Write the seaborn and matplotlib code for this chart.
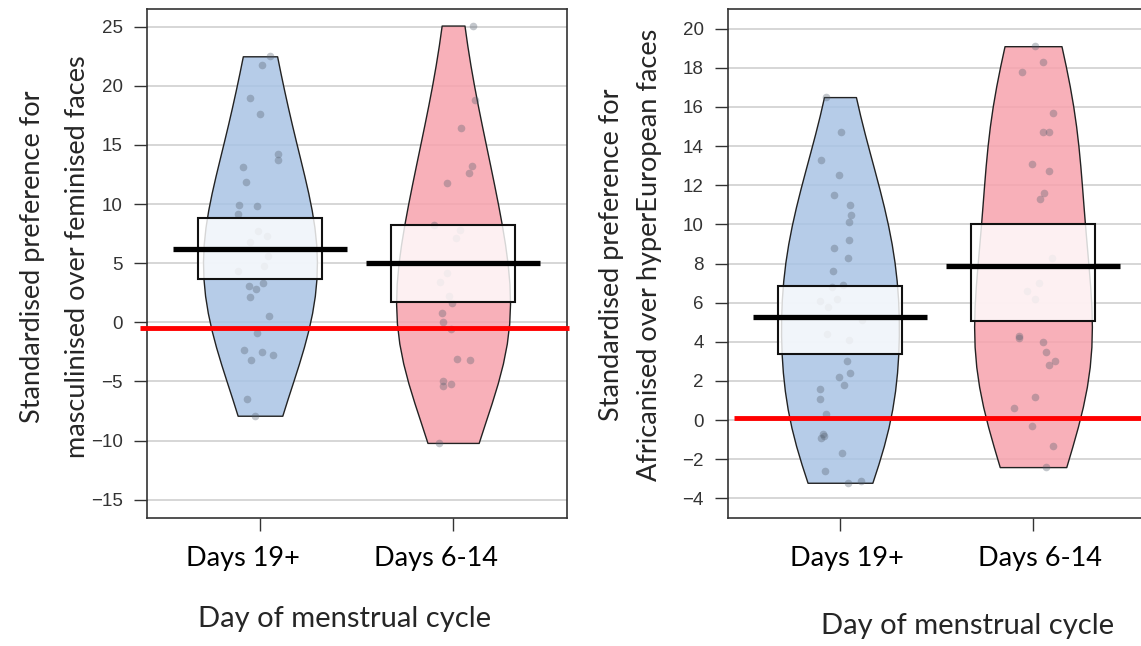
import numpy as np
import pandas as pd
import seaborn as sns
from matplotlib import pyplot as plt
from matplotlib.patches import Rectangle
from matplotlib.transforms import ScaledTranslation

groups = ['Days 19+', 'Days 6-14']

# left panel: masculinised over feminised faces
masc_late = [21.8, 22.5, 19.0, 17.6, 14.2, 13.7, 13.1, 11.9, 9.9, 9.8, 9.2,
             7.7, 7.3, 6.8, 5.6, 4.8, 4.3, 3.3, 3.1, 2.8, 2.1, 0.5, -0.9,
             -2.3, -2.5, -2.8, -3.2, -6.5, -7.9]
masc_mid = [25.1, 18.8, 16.4, 13.2, 12.6, 11.8, 8.2, 7.8, 7.1, 4.2, 3.4, 2.2,
            1.6, 0.8, 0.0, -0.6, -3.2, -3.1, -5.4, -5.0, -5.2, -10.2]
masc_mean = [6.18, 4.99]
masc_band = [(3.63, 8.8), (1.7, 8.2)]
masc_ref = -0.45

# right panel: africanised over hyperEuropean faces
afr_late = [16.5, 14.7, 13.3, 12.5, 11.5, 11.0, 10.5, 10.1, 9.2, 8.8, 8.3,
            7.6, 6.9, 6.8, 6.2, 6.1, 5.8, 5.1, 4.4, 4.1, 3.0, 2.4, 2.2, 1.8,
            1.6, 1.1, 0.3, -0.8, -0.9, -0.7, -1.7, -2.6, -3.1, -3.2]
afr_mid = [19.1, 18.3, 17.8, 15.7, 14.7, 14.7, 13.1, 12.7, 11.6, 11.3, 8.3,
           7.0, 6.6, 6.2, 4.2, 4.3, 4.0, 3.5, 3.0, 2.8, 1.2, 0.6, -0.3, -1.3,
           -2.4]
afr_mean = [5.26, 7.87]
afr_band = [(3.39, 6.85), (5.06, 10.0)]
afr_ref = 0.12

palette = {'Days 19+': '#a9c4e4', 'Days 6-14': '#f7a3ad'}
lab_font = ['Lato', 'DejaVu Sans']


def long_df(late, mid):
    return pd.DataFrame({
        'group': ['Days 19+'] * len(late) + ['Days 6-14'] * len(mid),
        'value': late + mid,
    })


def pirate(ax, df, means, bands, width, bw, shift):
    sns.violinplot(data=df, x='group', y='value', hue='group', order=groups,
                   palette=palette, legend=False, cut=0, inner=None,
                   density_norm='width', width=width, bw_adjust=bw,
                   gridsize=22, linewidth=1, linecolor='#222222',
                   saturation=1, ax=ax, zorder=2)
    for coll in ax.collections:
        fc = coll.get_facecolor()
        fc[:, 3] = 0.85
        coll.set_facecolor(fc)
    sns.stripplot(data=df, x='group', y='value', order=groups, color='#55606e',
                  alpha=0.35, size=5.5, jitter=0.12, linewidth=0, ax=ax,
                  zorder=3)
    for i, (lo, hi) in enumerate(bands):
        ax.add_patch(Rectangle((i - 0.32, lo), 0.64, hi - lo, facecolor='white',
                               alpha=0.82, edgecolor='none', zorder=4))
        ax.add_patch(Rectangle((i - 0.32, lo), 0.64, hi - lo, facecolor='none',
                               edgecolor='#111111', lw=1.5, zorder=5))
    ax.hlines(means, np.arange(2) - 0.45, np.arange(2) + 0.45, color='black',
              lw=3.8, zorder=6)
    ax.grid(axis='y', color='#cccccc', lw=1.1, zorder=0)
    ax.set_axisbelow(True)
    for s in ax.spines.values():
        s.set_color('#333333')
        s.set_linewidth(1.2)
    ax.tick_params(axis='both', left=True, bottom=True, length=9.5, width=1,
                   color='#333333', labelcolor='#333333')
    ax.tick_params(axis='y', labelsize=13.5, pad=8)
    ax.tick_params(axis='x', labelsize=19.5, labelcolor='black', pad=11)
    off = ScaledTranslation(shift / 100, 0, ax.figure.dpi_scale_trans)
    for lab in ax.get_xticklabels():
        lab.set_fontfamily(lab_font)
        lab.set_transform(lab.get_transform() + off)
    ax.set_xlabel('')


np.random.seed(3)
sns.set_style('white')
plt.rcParams['font.family'] = ['Liberation Sans', 'DejaVu Sans']

fig = plt.figure(figsize=(11.41, 6.46), dpi=100)
ax1 = fig.add_axes([147 / 1141, 128 / 646, 420 / 1141, 509 / 646])
ax2 = fig.add_axes([728 / 1141, 128 / 646, 416 / 1141, 509 / 646])

pirate(ax1, long_df(masc_late, masc_mid), masc_mean, masc_band, 0.59, 1.35,
       -17)
ax1.set_xlim(-0.585, 1.59)
ax1.set_ylim(-16.55, 26.5)
ax1.set_yticks(np.arange(-15, 26, 5))
ax1.plot([-0.62, 1.6], [masc_ref, masc_ref], color='red', lw=3.5, zorder=7,
         clip_on=False, solid_capstyle='butt')

pirate(ax2, long_df(afr_late, afr_mid), afr_mean, afr_band, 0.61, 1.35, 7)
ax2.set_xlim(-0.58, 1.575)
ax2.set_ylim(-5.0, 21.0)
ax2.set_yticks(np.arange(-4, 21, 2))
ax2.plot([-0.55, 1.6], [afr_ref, afr_ref], color='red', lw=3.5, zorder=7,
         clip_on=False, solid_capstyle='butt')

ax1.set_ylabel('Standardised preference for\nmasculinised over feminised faces',
               fontsize=19.5, family=lab_font, linespacing=2.0)
ax1.yaxis.set_label_coords(-0.136, 0.513)
ax1.set_xlabel('Day of menstrual cycle', fontsize=21, family=lab_font)
ax1.xaxis.set_label_coords(0.471, -0.173)

ax2.set_ylabel('Standardised preference for\nAfricanised over hyperEuropean faces',
               fontsize=19.5, family=lab_font, linespacing=1.65)
ax2.yaxis.set_label_coords(-0.159, 0.517)
ax2.set_xlabel('Day of menstrual cycle', fontsize=21, family=lab_font)
ax2.xaxis.set_label_coords(0.576, -0.187)

plt.savefig('out.png', dpi=100)
